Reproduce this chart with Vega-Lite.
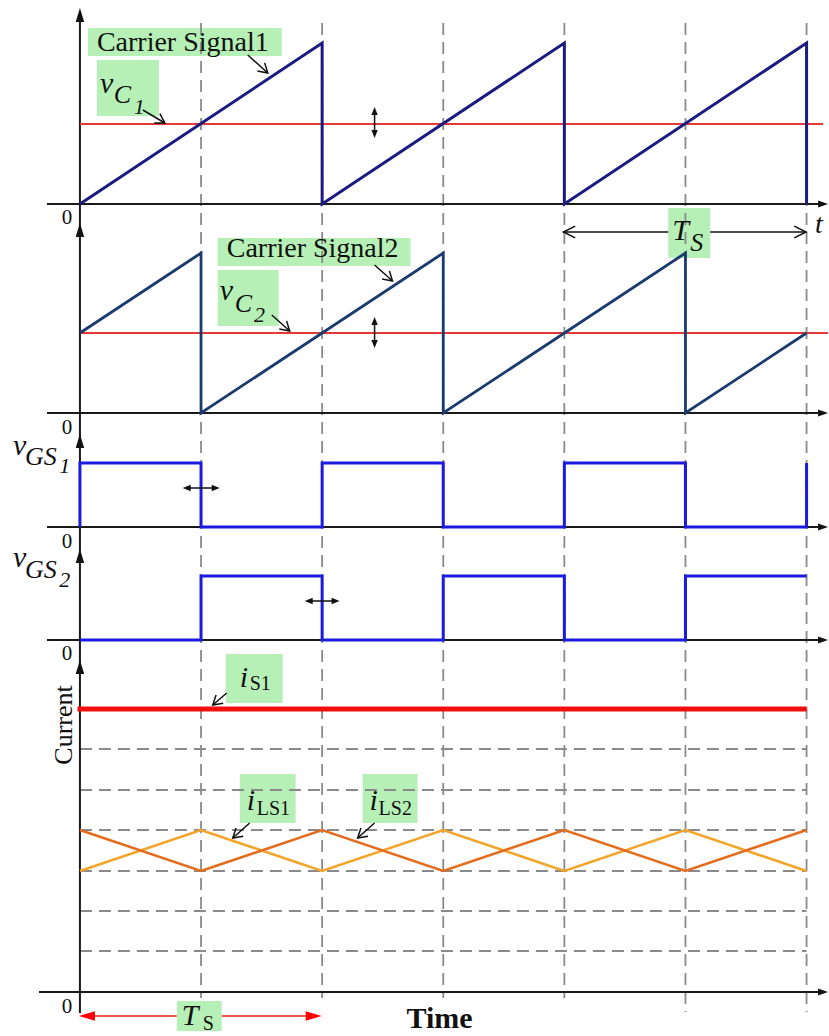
{
  "$schema": "https://vega.github.io/schema/vega-lite/v6.json",
  "width": 829,
  "height": 1036,
  "autosize": {"type": "fit", "contains": "padding"},
  "padding": 0,
  "background": "white",
  "config": {"view": {"stroke": null}},
  "datasets": {
    "box": [
      {"t": 0.066, "t2": 1.666, "y": 28, "y2": 56},
      {"t": 0.140, "t2": 0.652, "y": 60, "y2": 116},
      {"t": 4.858, "t2": 5.204, "y": 208, "y2": 258},
      {"t": 1.138, "t2": 2.730, "y": 238, "y2": 266},
      {"t": 1.138, "t2": 1.641, "y": 270, "y2": 326},
      {"t": 1.204, "t2": 1.674, "y": 654, "y2": 703},
      {"t": 1.320, "t2": 1.781, "y": 774, "y2": 823},
      {"t": 2.334, "t2": 2.788, "y": 774, "y2": 823},
      {"t": 0.800, "t2": 1.171, "y": 1001, "y2": 1031}
    ],
    "rules": [
      {"k": "vg", "t": 1, "t2": 1, "y": 23, "y2": 998},
      {"k": "vg", "t": 2, "t2": 2, "y": 23, "y2": 998},
      {"k": "vg", "t": 3, "t2": 3, "y": 23, "y2": 998},
      {"k": "vg", "t": 4, "t2": 4, "y": 23, "y2": 998},
      {"k": "vg", "t": 5, "t2": 5, "y": 23, "y2": 1012},
      {"k": "vg", "t": 6, "t2": 6, "y": 23, "y2": 1012},
      {"k": "hg", "t": 0, "t2": 6, "y": 749, "y2": 749},
      {"k": "hg", "t": 0, "t2": 6, "y": 790, "y2": 790},
      {"k": "hg", "t": 0, "t2": 6, "y": 830, "y2": 830},
      {"k": "hg", "t": 0, "t2": 6, "y": 871, "y2": 871},
      {"k": "hg", "t": 0, "t2": 6, "y": 911, "y2": 911},
      {"k": "hg", "t": 0, "t2": 6, "y": 951, "y2": 951},
      {"k": "ax", "t": -0.272, "t2": 6.1, "y": 204, "y2": 204},
      {"k": "ax", "t": -0.272, "t2": 6.1, "y": 413, "y2": 413},
      {"k": "ax", "t": -0.272, "t2": 6.1, "y": 527, "y2": 527},
      {"k": "ax", "t": -0.272, "t2": 6.1, "y": 640, "y2": 640},
      {"k": "ax", "t": -0.338, "t2": 6.1, "y": 992, "y2": 992},
      {"k": "ax", "t": 0, "t2": 0, "y": 14, "y2": 1013},
      {"k": "red", "t": 0, "t2": 6.136, "y": 124, "y2": 124},
      {"k": "red", "t": 0, "t2": 6.177, "y": 333, "y2": 333},
      {"k": "is1", "t": -0.02, "t2": 6.0, "y": 709, "y2": 709},
      {"k": "ann", "t": 1.386, "t2": 1.551, "y": 55, "y2": 73},
      {"k": "ann", "t": 0.520, "t2": 0.701, "y": 110, "y2": 123},
      {"k": "ann", "t": 2.433, "t2": 2.581, "y": 265, "y2": 281},
      {"k": "ann", "t": 1.584, "t2": 1.732, "y": 315, "y2": 331},
      {"k": "ann", "t": 1.212, "t2": 1.097, "y": 693, "y2": 705},
      {"k": "ann", "t": 1.402, "t2": 1.262, "y": 823, "y2": 838},
      {"k": "ann", "t": 2.433, "t2": 2.293, "y": 823, "y2": 838},
      {"k": "dbl", "t": 2.433, "t2": 2.433, "y": 110, "y2": 135},
      {"k": "dbl", "t": 2.433, "t2": 2.433, "y": 320, "y2": 345},
      {"k": "dbl", "t": 0.88, "t2": 1.125, "y": 488, "y2": 488},
      {"k": "dbl", "t": 1.886, "t2": 2.114, "y": 601, "y2": 601},
      {"k": "ts", "t": 3.992, "t2": 4.858, "y": 232, "y2": 232},
      {"k": "ts", "t": 5.204, "t2": 5.996, "y": 232, "y2": 232},
      {"k": "tsr", "t": 0.05, "t2": 0.800, "y": 1016, "y2": 1016},
      {"k": "tsr", "t": 1.171, "t2": 1.95, "y": 1016, "y2": 1016}
    ],
    "sig": [
      {"s": "c1", "i": 0, "t": 0, "y": 204},
      {"s": "c1", "i": 1, "t": 2, "y": 43},
      {"s": "c1", "i": 2, "t": 2, "y": 204},
      {"s": "c1", "i": 3, "t": 4, "y": 43},
      {"s": "c1", "i": 4, "t": 4, "y": 204},
      {"s": "c1", "i": 5, "t": 6, "y": 43},
      {"s": "c1", "i": 6, "t": 6, "y": 204},
      {"s": "c2", "i": 0, "t": 0, "y": 333},
      {"s": "c2", "i": 1, "t": 1, "y": 253},
      {"s": "c2", "i": 2, "t": 1, "y": 413},
      {"s": "c2", "i": 3, "t": 3, "y": 253},
      {"s": "c2", "i": 4, "t": 3, "y": 413},
      {"s": "c2", "i": 5, "t": 5, "y": 253},
      {"s": "c2", "i": 6, "t": 5, "y": 413},
      {"s": "c2", "i": 7, "t": 6, "y": 333},
      {"s": "g1", "i": 0, "t": 0, "y": 527},
      {"s": "g1", "i": 1, "t": 0, "y": 463},
      {"s": "g1", "i": 2, "t": 1, "y": 463},
      {"s": "g1", "i": 3, "t": 1, "y": 527},
      {"s": "g1", "i": 4, "t": 2, "y": 527},
      {"s": "g1", "i": 5, "t": 2, "y": 463},
      {"s": "g1", "i": 6, "t": 3, "y": 463},
      {"s": "g1", "i": 7, "t": 3, "y": 527},
      {"s": "g1", "i": 8, "t": 4, "y": 527},
      {"s": "g1", "i": 9, "t": 4, "y": 463},
      {"s": "g1", "i": 10, "t": 5, "y": 463},
      {"s": "g1", "i": 11, "t": 5, "y": 527},
      {"s": "g1", "i": 12, "t": 6, "y": 527},
      {"s": "g1", "i": 13, "t": 6, "y": 463},
      {"s": "g2", "i": 0, "t": 0, "y": 640},
      {"s": "g2", "i": 1, "t": 1, "y": 640},
      {"s": "g2", "i": 2, "t": 1, "y": 576},
      {"s": "g2", "i": 3, "t": 2, "y": 576},
      {"s": "g2", "i": 4, "t": 2, "y": 640},
      {"s": "g2", "i": 5, "t": 3, "y": 640},
      {"s": "g2", "i": 6, "t": 3, "y": 576},
      {"s": "g2", "i": 7, "t": 4, "y": 576},
      {"s": "g2", "i": 8, "t": 4, "y": 640},
      {"s": "g2", "i": 9, "t": 5, "y": 640},
      {"s": "g2", "i": 10, "t": 5, "y": 576},
      {"s": "g2", "i": 11, "t": 6, "y": 576},
      {"s": "l1", "i": 0, "t": 0, "y": 830},
      {"s": "l1", "i": 1, "t": 1, "y": 871},
      {"s": "l1", "i": 2, "t": 2, "y": 830},
      {"s": "l1", "i": 3, "t": 3, "y": 871},
      {"s": "l1", "i": 4, "t": 4, "y": 830},
      {"s": "l1", "i": 5, "t": 5, "y": 871},
      {"s": "l1", "i": 6, "t": 6, "y": 830},
      {"s": "l2", "i": 0, "t": 0, "y": 871},
      {"s": "l2", "i": 1, "t": 1, "y": 830},
      {"s": "l2", "i": 2, "t": 2, "y": 871},
      {"s": "l2", "i": 3, "t": 3, "y": 830},
      {"s": "l2", "i": 4, "t": 4, "y": 871},
      {"s": "l2", "i": 5, "t": 5, "y": 830},
      {"s": "l2", "i": 6, "t": 6, "y": 871}
    ],
    "pts": [
      {"k": "up", "t": 0, "y": 15},
      {"k": "up", "t": 0, "y": 230},
      {"k": "up", "t": 0, "y": 441},
      {"k": "up", "t": 0, "y": 556},
      {"k": "up", "t": 0, "y": 667},
      {"k": "right", "t": 6.136, "y": 204},
      {"k": "right", "t": 6.136, "y": 413},
      {"k": "right", "t": 6.136, "y": 527},
      {"k": "right", "t": 6.136, "y": 640},
      {"k": "right", "t": 6.136, "y": 992},
      {"k": "ch42", "t": 1.551, "y": 73},
      {"k": "ch42", "t": 2.581, "y": 281},
      {"k": "ch42", "t": 1.732, "y": 331},
      {"k": "ch31", "t": 0.701, "y": 123},
      {"k": "ch139", "t": 1.097, "y": 705},
      {"k": "ch139", "t": 1.262, "y": 838},
      {"k": "ch139", "t": 2.293, "y": 838},
      {"k": "chL", "t": 3.992, "y": 232},
      {"k": "chR", "t": 5.996, "y": 232},
      {"k": "sup", "t": 2.433, "y": 111},
      {"k": "sup", "t": 2.433, "y": 321},
      {"k": "sdown", "t": 2.433, "y": 134},
      {"k": "sdown", "t": 2.433, "y": 344},
      {"k": "sleft", "t": 0.882, "y": 488},
      {"k": "sleft", "t": 1.889, "y": 601},
      {"k": "sright", "t": 1.121, "y": 488},
      {"k": "sright", "t": 2.111, "y": 601},
      {"k": "rl", "t": 0.058, "y": 1016},
      {"k": "rr", "t": 1.93, "y": 1016}
    ],
    "txt": [
      {"k": "r28", "t": 0.140, "y": 51, "text": "Carrier Signal1"},
      {"k": "r28", "t": 1.212, "y": 257, "text": "Carrier Signal2"},
      {"k": "i30", "t": 0.165, "y": 93, "text": "v"},
      {"k": "i30", "t": 1.155, "y": 300, "text": "v"},
      {"k": "i30", "t": -0.553, "y": 455, "text": "v"},
      {"k": "i30", "t": -0.553, "y": 567, "text": "v"},
      {"k": "i30", "t": 1.320, "y": 687, "text": "i"},
      {"k": "i30", "t": 1.377, "y": 810, "text": "i"},
      {"k": "i30", "t": 2.392, "y": 810, "text": "i"},
      {"k": "i30", "t": 4.891, "y": 240, "text": "T"},
      {"k": "i30", "t": 0.841, "y": 1025, "text": "T"},
      {"k": "i25", "t": 0.280, "y": 103, "text": "C"},
      {"k": "i25", "t": 1.278, "y": 312, "text": "C"},
      {"k": "i25", "t": -0.454, "y": 465, "text": "GS"},
      {"k": "i25", "t": -0.454, "y": 578, "text": "GS"},
      {"k": "i25", "t": 5.04, "y": 251, "text": "S"},
      {"k": "i22", "t": 0.445, "y": 114, "text": "1"},
      {"k": "i22", "t": 1.437, "y": 322, "text": "2"},
      {"k": "i22", "t": -0.17, "y": 473, "text": "1"},
      {"k": "i22", "t": -0.17, "y": 587, "text": "2"},
      {"k": "r20", "t": 1.402, "y": 690, "text": "S1"},
      {"k": "r20", "t": 1.460, "y": 815, "text": "LS1"},
      {"k": "r20", "t": 2.466, "y": 815, "text": "LS2"},
      {"k": "r20", "t": 1.014, "y": 1030, "text": "S"},
      {"k": "zero", "t": -0.107, "y": 218, "text": "0"},
      {"k": "zero", "t": -0.107, "y": 428, "text": "0"},
      {"k": "zero", "t": -0.107, "y": 542, "text": "0"},
      {"k": "zero", "t": -0.107, "y": 654, "text": "0"},
      {"k": "zero", "t": -0.107, "y": 1007, "text": "0"},
      {"k": "bold", "t": 2.697, "y": 1028, "text": "Time"},
      {"k": "cur", "t": -0.132, "y": 725, "text": "Current"},
      {"k": "tit", "t": 6.07, "y": 233, "text": "t"}
    ]
  },
  "encoding": {
    "x": {"field": "t", "type": "quantitative", "scale": {"domain": [-0.66, 6.177], "nice": false, "zero": false}, "axis": null},
    "y": {"field": "y", "type": "quantitative", "scale": {"domain": [0, 1036], "nice": false, "zero": false, "reverse": true}, "axis": null}
  },
  "layer": [
    {"data": {"name": "box"}, "mark": {"type": "rect", "color": "#b6f0b6"},
     "encoding": {"x2": {"field": "t2"}, "y2": {"field": "y2"}}},
    {"data": {"name": "rules"}, "transform": [{"filter": "datum.k === 'vg' || datum.k === 'hg'"}],
     "mark": {"type": "rule", "color": "#8a8a8a", "strokeWidth": 1.8, "strokeDash": [12, 7]},
     "encoding": {"x2": {"field": "t2"}, "y2": {"field": "y2"}}},
    {"data": {"name": "rules"}, "transform": [{"filter": "datum.k === 'ax'"}],
     "mark": {"type": "rule", "color": "#1a1a1a", "strokeWidth": 2},
     "encoding": {"x2": {"field": "t2"}, "y2": {"field": "y2"}}},
    {"data": {"name": "rules"}, "transform": [{"filter": "datum.k === 'red'"}],
     "mark": {"type": "rule", "color": "#e23838", "strokeWidth": 1.8},
     "encoding": {"x2": {"field": "t2"}, "y2": {"field": "y2"}}},
    {"data": {"name": "sig"}, "transform": [{"filter": "datum.s === 'c1'"}],
     "mark": {"type": "line", "color": "#1b1b80", "strokeWidth": 3},
     "encoding": {"order": {"field": "i", "type": "quantitative"}}},
    {"data": {"name": "sig"}, "transform": [{"filter": "datum.s === 'c2'"}],
     "mark": {"type": "line", "color": "#1b3b6e", "strokeWidth": 2.8},
     "encoding": {"order": {"field": "i", "type": "quantitative"}}},
    {"data": {"name": "sig"}, "transform": [{"filter": "datum.s === 'g1' || datum.s === 'g2'"}],
     "mark": {"type": "line", "color": "#1a1ae0", "strokeWidth": 3},
     "encoding": {"detail": {"field": "s"}, "order": {"field": "i", "type": "quantitative"}}},
    {"data": {"name": "sig"}, "transform": [{"filter": "datum.s === 'l2'"}],
     "mark": {"type": "line", "color": "#f4a428", "strokeWidth": 2.6},
     "encoding": {"order": {"field": "i", "type": "quantitative"}}},
    {"data": {"name": "sig"}, "transform": [{"filter": "datum.s === 'l1'"}],
     "mark": {"type": "line", "color": "#e46c1c", "strokeWidth": 2.6},
     "encoding": {"order": {"field": "i", "type": "quantitative"}}},
    {"data": {"name": "rules"}, "transform": [{"filter": "datum.k === 'is1'"}],
     "mark": {"type": "rule", "color": "#f01010", "strokeWidth": 5},
     "encoding": {"x2": {"field": "t2"}, "y2": {"field": "y2"}}},
    {"data": {"name": "rules"}, "transform": [{"filter": "datum.k === 'ann' || datum.k === 'dbl' || datum.k === 'ts'"}],
     "mark": {"type": "rule", "color": "#111111", "strokeWidth": 1.5},
     "encoding": {"x2": {"field": "t2"}, "y2": {"field": "y2"}}},
    {"data": {"name": "rules"}, "transform": [{"filter": "datum.k === 'tsr'"}],
     "mark": {"type": "rule", "color": "#ee1c1c", "strokeWidth": 1.6},
     "encoding": {"x2": {"field": "t2"}, "y2": {"field": "y2"}}},
    {"data": {"name": "pts"}, "transform": [{"filter": "datum.k === 'up'"}],
     "mark": {"type": "point", "shape": "M0,-1L0.6,1L-0.6,1Z", "size": 200, "filled": true, "color": "#111111", "opacity": 1}},
    {"data": {"name": "pts"}, "transform": [{"filter": "datum.k === 'right'"}],
     "mark": {"type": "point", "shape": "M1,0L-1,-0.7L-1,0.7Z", "size": 100, "filled": true, "color": "#111111", "opacity": 1}},
    {"data": {"name": "pts"}, "transform": [{"filter": "datum.k === 'ch42'"}],
     "mark": {"type": "point", "shape": "M-1,-0.6L0,0L-1,0.6", "size": 330, "filled": false, "color": "#111111", "strokeWidth": 1.5, "angle": 42, "opacity": 1}},
    {"data": {"name": "pts"}, "transform": [{"filter": "datum.k === 'ch31'"}],
     "mark": {"type": "point", "shape": "M-1,-0.6L0,0L-1,0.6", "size": 330, "filled": false, "color": "#111111", "strokeWidth": 1.5, "angle": 31, "opacity": 1}},
    {"data": {"name": "pts"}, "transform": [{"filter": "datum.k === 'ch139'"}],
     "mark": {"type": "point", "shape": "M-1,-0.6L0,0L-1,0.6", "size": 330, "filled": false, "color": "#111111", "strokeWidth": 1.5, "angle": 139, "opacity": 1}},
    {"data": {"name": "pts"}, "transform": [{"filter": "datum.k === 'chR'"}],
     "mark": {"type": "point", "shape": "M-1,-0.5L0,0L-1,0.5", "size": 560, "filled": false, "color": "#111111", "strokeWidth": 1.5, "opacity": 1}},
    {"data": {"name": "pts"}, "transform": [{"filter": "datum.k === 'chL'"}],
     "mark": {"type": "point", "shape": "M1,-0.5L0,0L1,0.5", "size": 560, "filled": false, "color": "#111111", "strokeWidth": 1.5, "opacity": 1}},
    {"data": {"name": "pts"}, "transform": [{"filter": "datum.k === 'sup'"}],
     "mark": {"type": "point", "shape": "M0,-1L0.8,1L-0.8,1Z", "size": 64, "filled": true, "color": "#111111", "opacity": 1}},
    {"data": {"name": "pts"}, "transform": [{"filter": "datum.k === 'sdown'"}],
     "mark": {"type": "point", "shape": "M0,1L0.8,-1L-0.8,-1Z", "size": 64, "filled": true, "color": "#111111", "opacity": 1}},
    {"data": {"name": "pts"}, "transform": [{"filter": "datum.k === 'sleft'"}],
     "mark": {"type": "point", "shape": "M-1,0L1,-0.8L1,0.8Z", "size": 64, "filled": true, "color": "#111111", "opacity": 1}},
    {"data": {"name": "pts"}, "transform": [{"filter": "datum.k === 'sright'"}],
     "mark": {"type": "point", "shape": "M1,0L-1,-0.8L-1,0.8Z", "size": 64, "filled": true, "color": "#111111", "opacity": 1}},
    {"data": {"name": "pts"}, "transform": [{"filter": "datum.k === 'rl'"}],
     "mark": {"type": "point", "shape": "M-1,0L1,-0.6L1,0.6Z", "size": 256, "filled": true, "color": "#ff0000", "opacity": 1}},
    {"data": {"name": "pts"}, "transform": [{"filter": "datum.k === 'rr'"}],
     "mark": {"type": "point", "shape": "M1,0L-1,-0.6L-1,0.6Z", "size": 256, "filled": true, "color": "#ff0000", "opacity": 1}},
    {"data": {"name": "txt"}, "transform": [{"filter": "datum.k === 'r28'"}],
     "mark": {"type": "text", "font": "Liberation Serif", "fontSize": 28, "align": "left", "baseline": "alphabetic", "color": "#111111"},
     "encoding": {"text": {"field": "text"}}},
    {"data": {"name": "txt"}, "transform": [{"filter": "datum.k === 'i30'"}],
     "mark": {"type": "text", "font": "Liberation Serif", "fontStyle": "italic", "fontSize": 30, "align": "left", "baseline": "alphabetic", "color": "#111111"},
     "encoding": {"text": {"field": "text"}}},
    {"data": {"name": "txt"}, "transform": [{"filter": "datum.k === 'i25'"}],
     "mark": {"type": "text", "font": "Liberation Serif", "fontStyle": "italic", "fontSize": 26, "align": "left", "baseline": "alphabetic", "color": "#111111"},
     "encoding": {"text": {"field": "text"}}},
    {"data": {"name": "txt"}, "transform": [{"filter": "datum.k === 'i22'"}],
     "mark": {"type": "text", "font": "Liberation Serif", "fontStyle": "italic", "fontSize": 22, "align": "left", "baseline": "alphabetic", "color": "#111111"},
     "encoding": {"text": {"field": "text"}}},
    {"data": {"name": "txt"}, "transform": [{"filter": "datum.k === 'r20'"}],
     "mark": {"type": "text", "font": "Liberation Serif", "fontSize": 20, "align": "left", "baseline": "alphabetic", "color": "#111111"},
     "encoding": {"text": {"field": "text"}}},
    {"data": {"name": "txt"}, "transform": [{"filter": "datum.k === 'zero'"}],
     "mark": {"type": "text", "font": "Liberation Serif", "fontSize": 21, "align": "center", "baseline": "middle", "color": "#111111"},
     "encoding": {"text": {"field": "text"}}},
    {"data": {"name": "txt"}, "transform": [{"filter": "datum.k === 'bold'"}],
     "mark": {"type": "text", "font": "Liberation Serif", "fontWeight": "bold", "fontSize": 30, "align": "left", "baseline": "alphabetic", "color": "#111111"},
     "encoding": {"text": {"field": "text"}}},
    {"data": {"name": "txt"}, "transform": [{"filter": "datum.k === 'cur'"}],
     "mark": {"type": "text", "font": "Liberation Serif", "fontSize": 26, "align": "center", "baseline": "middle", "angle": 270, "color": "#111111"},
     "encoding": {"text": {"field": "text"}}},
    {"data": {"name": "txt"}, "transform": [{"filter": "datum.k === 'tit'"}],
     "mark": {"type": "text", "font": "Liberation Serif", "fontStyle": "italic", "fontSize": 28, "align": "left", "baseline": "alphabetic", "color": "#111111"},
     "encoding": {"text": {"field": "text"}}}
  ]
}
